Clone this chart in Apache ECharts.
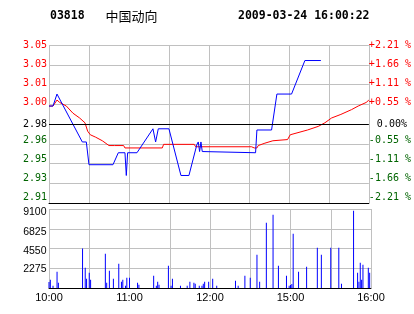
<!DOCTYPE html>
<html>
<head>
<meta charset="utf-8">
<script src="https://cdn.jsdelivr.net/npm/echarts@6/dist/echarts.min.js"></script>
<style>
html,body{margin:0;padding:0;background:#fff;}
#c{width:414px;height:314px;}
</style>
</head>
<body>
<div id="c"></div>
<script>
// ---- data ----
const stockCode = '03818';
const stockName = '中国动向';
const stampText = '2009-03-24 16:00:22';
const prevClose = 2.985;

// price line (minute from 10:00, trading minutes; 150 = 12:30/14:30)
const priceMin = [0,3,6,25,28,30,48,52,57,58,59,66,78,80,82,90,99,105,111,112,113,114,115,116,155,156,167,171,182,192,204];
const priceVal = [3.000,3.000,3.010,2.970,2.970,2.951,2.951,2.961,2.961,2.942,2.961,2.961,2.981,2.970,2.981,2.981,2.942,2.942,2.968,2.970,2.962,2.970,2.962,2.961,2.961,2.980,2.980,3.010,3.010,3.038,3.038];

// average price line
const avgMin = [0,3,6,8,13,18,23,27,29,31,35,40,45,49,56,57,85,86,109,110,152,154,156,157,162,168,179,181,194,202,207,212,219,227,232,238,240];
const avgVal = [3.000,3.000,3.005,3.003,3.000,2.994,2.990,2.986,2.979,2.976,2.974,2.971,2.967,2.967,2.967,2.965,2.965,2.968,2.968,2.966,2.966,2.965,2.965,2.967,2.969,2.971,2.972,2.976,2.980,2.983,2.986,2.990,2.993,2.997,3.000,3.003,3.005];

// volume bars
const volMin = [0,1,3,6,7,25,27,28,30,31,42,43,45,48,52,54,55,57,58,60,66,67,78,80,81,82,89,91,92,98,103,105,108,109,112,114,115,116,119,122,125,139,141,146,150,155,157,162,167,171,177,179,180,181,182,186,192,200,203,210,216,218,227,230,231,232,233,234,238,239];
const volVal = [700,960,270,1880,610,4550,2340,1075,1770,960,3955,615,2000,1075,2800,730,960,270,1190,1190,615,385,1420,270,730,385,2570,270,1075,270,270,730,615,500,270,270,500,730,730,1075,270,845,270,1420,1190,3840,730,7530,8450,2570,1420,270,345,460,6260,1880,2460,4650,3840,4650,4650,500,8910,1770,730,2920,960,2690,2340,1770];

// tick labels
const priceLabels = ['2.91','2.93','2.95','2.96','2.98','3.00','3.01','3.03','3.05'];
const pctLabels = ['-2.21 %','-1.66 %','-1.11 %','-0.55 %','0.00%','+0.55 %','+1.11 %','+1.66 %','+2.21 %'];
const volLabels = ['','2275','4550','6825','9100'];
const timeLabels = ['10:00','','11:00','','12:00','','15:00','','16:00'];

// ---- layout constants (label nudges in px, positive = up) ----
const priceLabelLift = [6, 5, 4, 3.5, 0, 2, 1, 0.5, 0];
const volLabelDrop = [0, 0.5, 2.5, 3, 3.5];

// ---- chart ----
const PCT_MAX = 2.21, PCT_STEP = 0.5525;
const toPct = p => (p / prevClose - 1) * 100;
const pctIdx = v => Math.round((v + PCT_MAX) / PCT_STEP);
const colorOf = i => i < 4 ? '#006400' : (i === 4 ? '#000000' : '#ff0000');

const mono = '"DejaVu Sans Mono", "Liberation Mono", monospace';
const sans = '"Liberation Sans", Arial, sans-serif';

function buildRich(isRight) {
  const rich = {};
  priceLabels.forEach((_, i) => {
    const lift = priceLabelLift[i];
    const pad = [0, 0, 2 * lift, (isRight && i === 4) ? 8 : 0];
    rich['s' + i] = {color: colorOf(i), fontFamily: mono, fontSize: 10, padding: pad};
  });
  return rich;
}
const volRich = {};
volLabels.forEach((_, i) => {
  volRich['v' + i] = {color:'#000', fontFamily: sans, fontSize: 10.5, padding:[2 * volLabelDrop[i], 0, 0, 0]};
});

const chart = echarts.init(document.getElementById('c'), null, {renderer:'canvas'});
const gridColor = '#c0c0c0';

chart.setOption({
  animation: false,
  backgroundColor: '#ffffff',
  graphic: [
    {type:'text', x:50, y:16, style:{text:stockCode, font:'bold 11.5px ' + mono, fill:'#000', verticalAlign:'middle', align:'left'}},
    {type:'text', x:105.5, y:16, style:{text:stockName, font:'13px "Noto Sans CJK SC"', fill:'#000', verticalAlign:'middle', align:'left'}},
    {type:'text', x:238, y:16, style:{text:stampText, font:'bold 11.5px ' + mono, fill:'#000', verticalAlign:'middle', align:'left'}}
  ],
  grid: [
    {left:49, top:45, width:322, height:158},
    {left:49, top:209, width:322, height:79}
  ],
  xAxis: [
    {gridIndex:0, type:'value', min:0, max:240, interval:30,
     axisLine:{show:true, onZero:false, lineStyle:{color:'#000', width:1}},
     axisTick:{show:false}, axisLabel:{show:false},
     splitLine:{show:true, lineStyle:{color:gridColor, width:1}}},
    {gridIndex:1, type:'value', min:0, max:240, interval:30,
     axisLine:{show:true, onZero:false, lineStyle:{color:'#000', width:1}},
     axisTick:{show:false},
     axisLabel:{show:true, margin:4.5, color:'#000', fontFamily:sans, fontSize:11,
       showMinLabel:true, showMaxLabel:true,
       formatter: v => timeLabels[Math.round(v/30)] || ''},
     splitLine:{show:true, lineStyle:{color:gridColor, width:1}}}
  ],
  yAxis: [
    {gridIndex:0, type:'value', position:'left', min:-PCT_MAX, max:PCT_MAX, interval:PCT_STEP,
     axisLine:{show:false}, axisTick:{show:false},
     axisLabel:{show:true, margin:2, showMinLabel:true, showMaxLabel:true,
       formatter: v => { const i = pctIdx(v); return '{s' + i + '|' + priceLabels[i] + '}'; },
       rich: buildRich(false)},
     splitLine:{show:true, lineStyle:{color:gridColor, width:1}}},
    {gridIndex:0, type:'value', position:'right', min:-PCT_MAX, max:PCT_MAX, interval:PCT_STEP,
     axisLine:{show:false}, axisTick:{show:false},
     axisLabel:{show:true, margin:0, showMinLabel:true, showMaxLabel:true,
       formatter: v => { const i = pctIdx(v); return '{s' + i + '|' + pctLabels[i] + '}'; },
       rich: buildRich(true)},
     splitLine:{show:false}},
    {gridIndex:1, type:'value', position:'left', min:0, max:9100, interval:2275,
     axisLine:{show:false}, axisTick:{show:false},
     axisLabel:{show:true, margin:2.5, showMinLabel:true, showMaxLabel:true,
       formatter: v => { const i = Math.round(v/2275); return volLabels[i] ? '{v' + i + '|' + volLabels[i] + '}' : ''; },
       rich: volRich},
     splitLine:{show:true, lineStyle:{color:gridColor, width:1}}}
  ],
  series: [
    {name:'avg', type:'line', xAxisIndex:0, yAxisIndex:0, symbol:'none', silent:true,
     data: avgMin.map((m,i) => [m, toPct(avgVal[i])]),
     lineStyle:{color:'#ff0000', width:1}, itemStyle:{color:'#ff0000'},
     markLine:{silent:true, symbol:['none','none'], label:{show:false},
       lineStyle:{color:'#000', type:'solid', width:1},
       data:[{yAxis:0}]}},
    {name:'price', type:'line', xAxisIndex:0, yAxisIndex:0, symbol:'none', silent:true,
     data: priceMin.map((m,i) => [m, toPct(priceVal[i])]),
     lineStyle:{color:'#0000ff', width:1}, itemStyle:{color:'#0000ff'}},
    {name:'vol', type:'bar', xAxisIndex:1, yAxisIndex:2, barWidth:1, silent:true,
     data: volMin.map((m,i) => [m, volVal[i]]),
     itemStyle:{color:'#0000ff'}}
  ]
});
</script>
</body>
</html>
